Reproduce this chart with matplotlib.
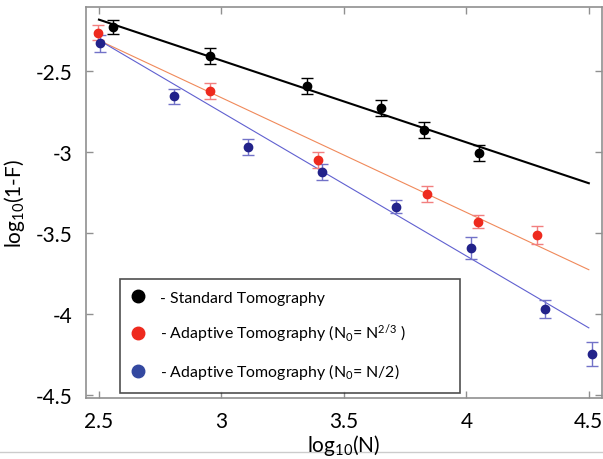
import matplotlib as mpl
mpl.use("Agg")
import matplotlib.pyplot as plt
from matplotlib.lines import Line2D
import numpy as np

plt.rcParams["font.family"] = ["Lato", "DejaVu Sans"]
plt.rcParams["mathtext.fontset"] = "custom"
plt.rcParams["mathtext.rm"] = "Lato"
plt.rcParams["mathtext.it"] = "Lato:italic"

# standard tomography
std_x = [2.557, 2.953, 3.350, 3.652, 3.828, 4.051]
std_y = [-2.228, -2.409, -2.594, -2.730, -2.862, -3.005]
std_err = [0.045, 0.05, 0.05, 0.05, 0.05, 0.05]

# adaptive, N0 = N^(2/3)
ad23_x = [2.496, 2.953, 3.393, 3.840, 4.046, 4.288]
ad23_y = [-2.264, -2.625, -3.051, -3.259, -3.430, -3.514]
ad23_err = [0.047, 0.05, 0.05, 0.05, 0.04, 0.054]

# adaptive, N0 = N/2
adh_x = [2.504, 2.806, 3.109, 3.410, 3.713, 4.017, 4.320, 4.515]
adh_y = [-2.329, -2.656, -2.971, -3.125, -3.338, -3.593, -3.971, -4.249]
adh_err = [0.052, 0.045, 0.05, 0.05, 0.04, 0.065, 0.055, 0.075]

# fitted lines (slope, intercept)
fit_std = (-0.505, -0.9205)
fit_ad23 = (-0.708, -0.541)
fit_adh = (-0.888, -0.09)
fit_range = (2.5, 4.5)

labels = [
    "- Standard Tomography",
    r"- Adaptive Tomography (N$_0$= N$^{2/3}$ )",
    "- Adaptive Tomography (N$_0$= N/2)",
]

fig = plt.figure(figsize=(6.03, 4.6), dpi=100)
ax = fig.add_axes([0.1426, 0.1326, 0.8554, 0.85])

xf = np.array(fit_range)
series = [
    (std_x, std_y, std_err, fit_std, "black", "black", "black", 1.5),
    (ad23_x, ad23_y, ad23_err, fit_ad23, "#ee2a1e", "#f27f7f", "#f0895a", 0.8),
    (adh_x, adh_y, adh_err, fit_adh, "#22228a", "#7272c8", "#6060d0", 0.8),
]
for xs, ys, es, (m, b), mc, ec, lc, lw in series:
    ax.plot(xf, m * xf + b, color=lc, lw=lw, zorder=2)
    ax.errorbar(xs, ys, yerr=es, fmt="o", ms=6, color=mc, ecolor=ec,
                elinewidth=1.0, capsize=4, capthick=1.0, zorder=3)

ax.set_xlim(2.447, 4.553)
ax.set_ylim(-4.519, -2.105)
ax.set_xticks([2.5, 3, 3.5, 4, 4.5])
ax.set_xticklabels(["2.5", "3", "3.5", "4", "4.5"])
ax.set_yticks([-4.5, -4, -3.5, -3, -2.5])
ax.set_yticklabels(["-4.5", "-4", "-3.5", "-3", "-2.5"])
ax.tick_params(direction="in", top=True, right=True, length=5, width=1,
               color="#909090", labelsize=15)
ax.tick_params(axis="x", pad=9)
ax.tick_params(axis="y", pad=10)
for s in ax.spines.values():
    s.set_color("#909090")
    s.set_linewidth(1.2)

ax.set_xlabel("log$_{10}$(N)", fontsize=15, labelpad=1)
ax.set_ylabel("log$_{10}$(1-F)", fontsize=15, labelpad=6)

handles = [
    Line2D([], [], ls="none", marker="o", ms=9, color=c)
    for c in ["black", "#ee2a1e", "#3348a0"]
]
leg = ax.legend(handles, labels, loc="lower left",
                bbox_to_anchor=(0.066, 0.0128, 0.659, 0.294), mode="expand",
                borderaxespad=0, fontsize=11.4, frameon=True, fancybox=False,
                labelspacing=1.05, handletextpad=1.0, handlelength=0.8,
                borderpad=0.75)
leg.get_frame().set_edgecolor("#222222")
leg.get_frame().set_linewidth(1.2)

fig.add_artist(Line2D([0, 1], [1 - 453 / 460] * 2, transform=fig.transFigure,
                      color="#cccccc", lw=1, zorder=0))

fig.savefig("out.png", dpi=100)
